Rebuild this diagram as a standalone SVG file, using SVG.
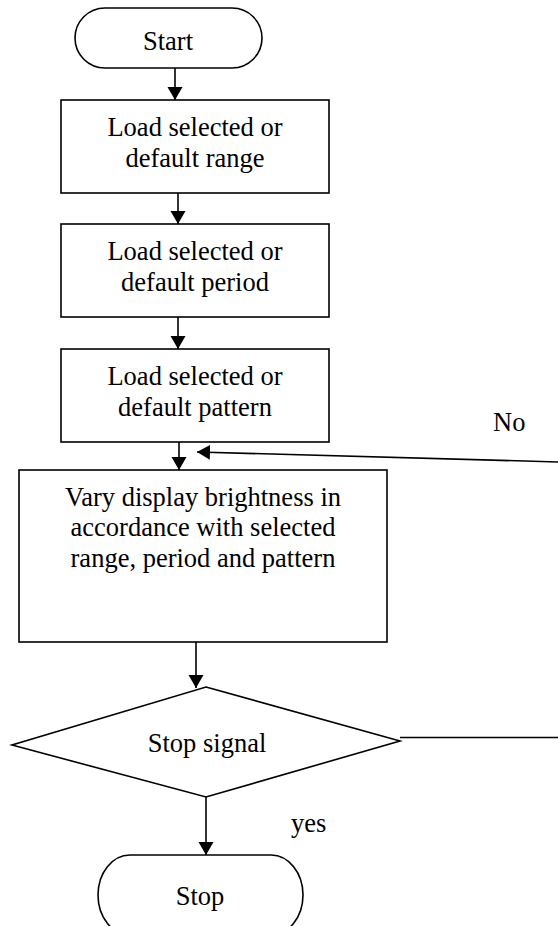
<svg xmlns="http://www.w3.org/2000/svg" width="558" height="926" viewBox="0 0 558 926">
<defs>
<marker id="ah" markerUnits="userSpaceOnUse" markerWidth="14" markerHeight="16" refX="13" refY="7.5" orient="auto">
<path d="M0,0 L13,7.5 L0,15 z" fill="#000"/>
</marker>
<style>
.shape{fill:#fff;stroke:#000;stroke-width:1.6}
.t{font-family:"Liberation Serif","Times New Roman",serif;font-size:26.5px;fill:#000;text-anchor:middle}
.tl{font-family:"Liberation Serif","Times New Roman",serif;font-size:26.5px;fill:#000}
.c{fill:none;stroke:#000;stroke-width:1.6}
</style>
</defs>
<rect width="558" height="926" fill="#fff"/>
<g id="connectors">
<line class="c" x1="175" y1="68" x2="175" y2="100" marker-end="url(#ah)"/>
<line class="c" x1="178" y1="193" x2="178" y2="224" marker-end="url(#ah)"/>
<line class="c" x1="178" y1="317" x2="178" y2="349" marker-end="url(#ah)"/>
<line class="c" x1="179" y1="442" x2="179" y2="470" marker-end="url(#ah)"/>
<line class="c" x1="196" y1="642" x2="196" y2="688" marker-end="url(#ah)"/>
<line class="c" x1="206" y1="797" x2="206" y2="855" marker-end="url(#ah)"/>
<line class="c" x1="400" y1="737.5" x2="560" y2="737.5"/>
<line class="c" x1="560" y1="462" x2="197" y2="452" marker-end="url(#ah)"/>
<text class="tl" x="493" y="431">No</text>
<text class="tl" x="291" y="832">yes</text>
</g>
<g id="start">
<rect class="shape" x="75" y="8" width="187" height="60" rx="30" ry="30"/>
<text class="t" x="168" y="50">Start</text>
</g>
<g id="range">
<rect class="shape" x="61" y="100" width="268" height="93"/>
<text class="t" x="195" y="136">Load selected or</text>
<text class="t" x="195" y="167">default range</text>
</g>
<g id="period">
<rect class="shape" x="61" y="224" width="268" height="93"/>
<text class="t" x="195" y="260">Load selected or</text>
<text class="t" x="195" y="291">default period</text>
</g>
<g id="pattern">
<rect class="shape" x="61" y="349" width="268" height="93"/>
<text class="t" x="195" y="385">Load selected or</text>
<text class="t" x="195" y="416">default pattern</text>
</g>
<g id="vary">
<rect class="shape" x="19" y="470" width="368" height="172"/>
<text class="t" x="203" y="506">Vary display brightness in</text>
<text class="t" x="203" y="536">accordance with selected</text>
<text class="t" x="203" y="567">range, period and pattern</text>
</g>
<g id="decision">
<polygon class="shape" points="206,687 400,741 206,797 12,745"/>
<text class="t" x="207" y="752">Stop signal</text>
</g>
<g id="stop">
<rect class="shape" x="98" y="855" width="205" height="80" rx="32" ry="40"/>
<text class="t" x="200" y="905">Stop</text>
</g>
</svg>
